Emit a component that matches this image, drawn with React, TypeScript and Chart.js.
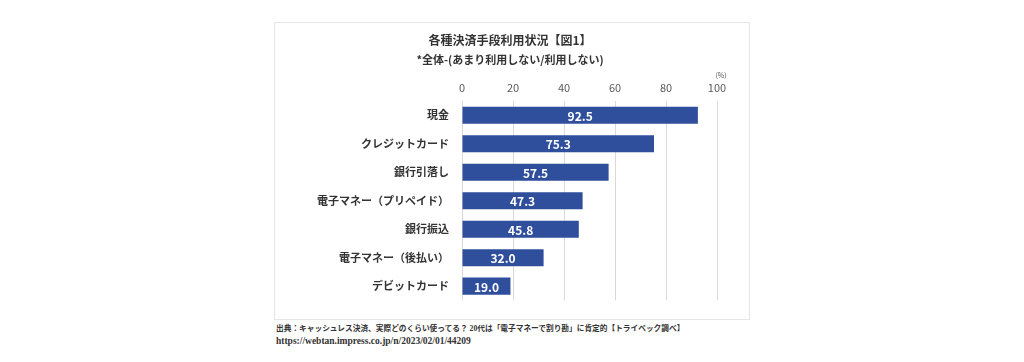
import React, { useEffect, useRef } from "react";
import { Chart, registerables } from "chart.js";

Chart.register(...registerables);

const categories = [
  "現金",
  "クレジットカード",
  "銀行引落し",
  "電子マネー（プリペイド）",
  "銀行振込",
  "電子マネー（後払い）",
  "デビットカード",
];
const values = [92.5, 75.3, 57.5, 47.3, 45.8, 32.0, 19.0];
const xTicks = [0, 20, 40, 60, 80, 100];
const titleText = "各種決済手段利用状況【図1】";
const subtitleText = "*全体-(あまり利用しない/利用しない)";
const unitText = "(%)";
const sourceLine1 =
  "出典：キャッシュレス決済、実際どのくらい使ってる？ 20代は「電子マネーで割り勘」に肯定的【トライベック調べ】";
const sourceLine2 = "https://webtan.impress.co.jp/n/2023/02/01/44209";

const JP = "'Noto Sans CJK JP', 'Noto Sans', sans-serif";
const BAR = "#2F4E9B";

const labelPlugin = {
  id: "valueLabels",
  afterDatasetsDraw(chart: any) {
    const ctx = chart.ctx;
    const meta = chart.getDatasetMeta(0);
    ctx.save();
    ctx.fillStyle = "#ffffff";
    ctx.font = `bold 12px ${JP}`;
    ctx.textAlign = "center";
    ctx.textBaseline = "middle";
    meta.data.forEach((el: any, i: number) => {
      const cx = (el.x + el.base) / 2;
      ctx.fillText(values[i].toFixed(1), cx, el.y + 1);
    });
    const xs = chart.scales.x;
    ctx.fillStyle = "#595959";
    ctx.font = `7px ${JP}`;
    ctx.fillText(unitText, xs.getPixelForValue(100) + 4, chart.chartArea.top - 26);
    ctx.restore();
  },
};

function ChartBox() {
  const ref = useRef<HTMLCanvasElement | null>(null);
  useEffect(() => {
    if (!ref.current) return;
    const chart = new Chart(ref.current, {
      type: "bar",
      data: {
        labels: categories,
        datasets: [
          {
            data: values,
            backgroundColor: BAR,
            borderWidth: 0,
            barPercentage: 0.6,
            categoryPercentage: 1,
          },
        ],
      },
      options: {
        indexAxis: "y",
        responsive: false,
        animation: false,
        devicePixelRatio: 1,
        layout: { padding: { top: 0, right: 33, bottom: 8, left: 0 } },
        plugins: {
          legend: { display: false },
          tooltip: { enabled: false },
          title: {
            display: true,
            text: titleText,
            color: "#333333",
            font: { family: JP, size: 12, weight: "bold" },
            padding: { top: 11, bottom: 6 },
          },
          subtitle: {
            display: true,
            text: subtitleText,
            color: "#333333",
            font: { family: JP, size: 11, weight: "bold" },
            padding: { top: 0, bottom: 0 },
          },
        },
        scales: {
          x: {
            position: "top",
            min: 0,
            max: 100,
            afterBuildTicks(scale: any) {
              scale.ticks = xTicks.map((v) => ({ value: v }));
            },
            afterFit(scale: any) {
              scale.height = 34.4;
            },
            ticks: {
              padding: 7,
              color: "#595959",
              font: { family: JP, size: 11 },
              maxRotation: 0,
            },
            grid: { color: "#d9d9d9", drawTicks: false },
            border: { display: false },
          },
          y: {
            afterFit(scale: any) {
              scale.width = 159;
            },
            ticks: {
              padding: 13,
              color: "#333333",
              font: { family: JP, size: 11, weight: "bold" },
            },
            grid: { display: false, drawTicks: false },
            border: { display: false },
          },
        },
      },
      plugins: [labelPlugin],
    } as any);
    return () => chart.destroy();
  }, []);
  return <canvas ref={ref} width={447} height={298} style={{ display: "block" }} />;
}

export default function App() {
  return (
    <div
      style={{
        position: "absolute",
        left: 0,
        top: 0,
        width: 1024,
        height: 362,
        background: "#ffffff",
        overflow: "hidden",
      }}
    >
      <div
        style={{
          position: "absolute",
          left: 274,
          top: 22,
          width: 476,
          height: 298,
          border: "1px solid #e6e6e6",
          boxSizing: "border-box",
        }}
      />
      <div style={{ position: "absolute", left: 303, top: 22, width: 447, height: 298 }}>
        <ChartBox />
      </div>
      <div
        style={{
          position: "absolute",
          left: 276,
          top: 322,
          fontFamily: `'Liberation Serif', ${JP}`,
          fontWeight: "bold",
          fontSize: 7.7,
          lineHeight: "13px",
          color: "#333333",
          whiteSpace: "nowrap",
        }}
      >
        <div>{sourceLine1}</div>
        <div style={{ fontSize: 9.5 }}>{sourceLine2}</div>
      </div>
    </div>
  );
}
